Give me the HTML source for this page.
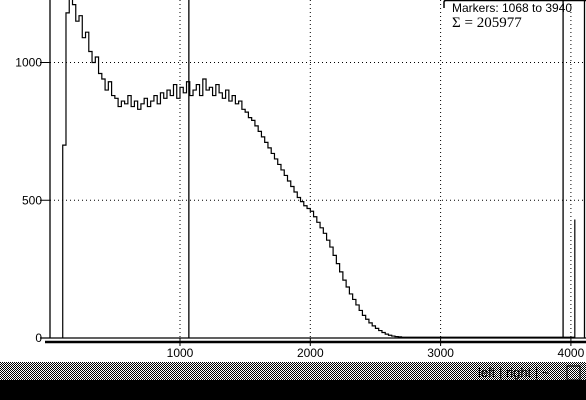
<!DOCTYPE html>
<html><head><meta charset="utf-8"><style>
html,body{margin:0;padding:0;background:#fff;width:586px;height:400px;overflow:hidden}
svg{display:block}
text{font-family:"Liberation Sans",sans-serif;font-size:12px;fill:#000}
</style></head><body>
<svg id="chart" width="586" height="400">
<defs><pattern id="stip" width="2" height="2" patternUnits="userSpaceOnUse"><rect width="2" height="2" fill="#fff"/><rect width="1" height="1" fill="#000"/><rect x="1" y="1" width="1" height="1" fill="#000"/></pattern></defs>
<g id="grid"></g>
<g id="axes"></g>
<path id="hist" fill="none" stroke="#000" stroke-width="1.2"/>
<g id="markers"></g>
<g>
<path d="M444 8 V2 Q444 0.5 446 0.5 H586" fill="none" stroke="#000" stroke-width="1.5"/>
<text x="452" y="12">Markers: 1068 to 3940</text>
<text x="452" y="27" style="font-family:'Liberation Serif',serif;font-size:15px">Σ = 205977</text>
</g>
<rect x="0" y="362" width="586" height="18" fill="url(#stip)"/>
<rect x="0" y="380" width="586" height="20" fill="#000"/>
<text x="478" y="377" style="font-size:13px">left | right | ~</text>
<rect x="567" y="366" width="13" height="14" fill="url(#stip)" stroke="#000"/>
</svg>
<script>
const xTicks=[1000,2000,3000,4000];
const yTicks=[0,500,1000];
const markerPositions=[1068,3940];
const binStart=100, binWidth=25;
const counts=[700,1180,1230,1210,1150,1170,1090,1110,1040,1000,1020,960,940,900,930,880,
870,840,860,850,880,840,860,830,850,870,840,860,880,850,890,870,900,880,920,870,
910,890,930,880,900,920,880,940,900,910,880,920,890,870,900,
860,880,850,860,830,
820,800,790,770,750,730,710,690,670,650,630,610,590,570,550,530,510,495,480,470,
460,440,420,400,380,355,330,300,270,240,210,185,160,140,120,100,82,68,55,44,35,27,20,14,10,7,5,4,3];
const tailValue=3;
const spikeChannel=4030, spikeValue=430;
const xs=v=>49.7+v*0.1303;
const ys=v=>338-v*0.2755;
const NS='http://www.w3.org/2000/svg';
function mk(tag,attrs,parent){const e=document.createElementNS(NS,tag);for(const k in attrs)e.setAttribute(k,attrs[k]);parent.appendChild(e);return e;}
const grid=document.getElementById('grid'),axes=document.getElementById('axes');
xTicks.forEach(t=>{
 const l=mk('line',{x1:xs(t),x2:xs(t),y1:0,y2:338,stroke:'#000','stroke-dasharray':'1 3'},grid);
 
 
 const tk=mk('line',{x1:xs(t),x2:xs(t),y1:338,y2:346,stroke:'#000'},axes);
 
 
 const tx=mk('text',{x:xs(t),y:357,'text-anchor':'middle'},axes);tx.textContent=t;
 
 
});
yTicks.forEach(t=>{
 if(t>0){const l=mk('line',{x1:50,x2:586,y1:ys(t),y2:ys(t),stroke:'#000','stroke-dasharray':'1 3'},grid);
 
 }
 const tk=mk('line',{x1:40,x2:50,y1:ys(t),y2:ys(t),stroke:'#000'},axes);
 
 
 const tx=mk('text',{x:42,y:ys(t)+4,'text-anchor':'end'},axes);tx.textContent=t;
 
 
});
const lb=mk('line',{x1:50,x2:50,y1:0,y2:338,stroke:'#000','stroke-width':1.3},axes);


const rb=mk('line',{x1:584.5,x2:584.5,y1:0,y2:338,stroke:'#000','stroke-width':1.3},axes);


const bl=mk('line',{x1:40,x2:586,y1:338,y2:338,stroke:'#000','stroke-width':1.3},axes);


const tb=mk('line',{x1:45,x2:586,y1:342,y2:342,stroke:'#000','stroke-width':2.5},axes);


let d='M'+xs(binStart)+' '+ys(0);
counts.forEach((c,i)=>{const a=xs(binStart+i*binWidth),b=xs(binStart+(i+1)*binWidth);d+=' L'+a+' '+ys(c)+' L'+b+' '+ys(c);});
const endCh=binStart+counts.length*binWidth;
d+=' L'+xs(endCh)+' '+ys(tailValue)+' L'+xs(spikeChannel)+' '+ys(tailValue)+' L'+xs(spikeChannel)+' '+ys(spikeValue)+' L'+xs(spikeChannel)+' '+ys(0);
document.getElementById('hist').setAttribute('d',d);
const mg=document.getElementById('markers');
markerPositions.forEach(m=>{const l=mk('line',{x1:xs(m),x2:xs(m),y1:0,y2:338,stroke:'#000','stroke-width':1.3},mg);
 
 });
</script>
</body></html>
